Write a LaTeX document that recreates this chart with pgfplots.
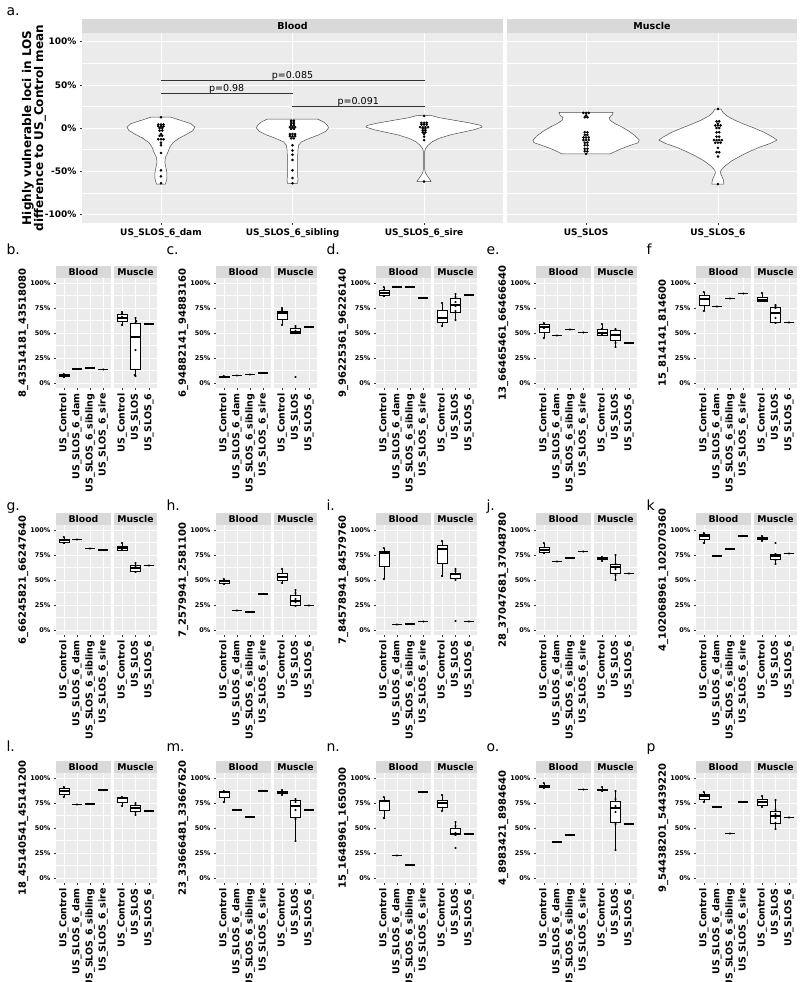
\documentclass[border=0pt]{standalone}
\usepackage{fontspec}
\setmainfont{DejaVu Sans}
\usepackage{pgfplots}
\pgfplotsset{compat=1.18}

\definecolor{panelbg}{HTML}{EBEBEB}
\definecolor{stripbg}{HTML}{D9D9D9}
\definecolor{grey20}{HTML}{333333}
\definecolor{grey30}{HTML}{4D4D4D}

\newcommand{\fs}[1]{\fontsize{#1}{#1}\selectfont}

\pgfplotsset{
  gg/.style={
    scale only axis, anchor=north west,
    axis background/.style={fill=panelbg},
    axis line style={draw=none},
    tick pos=left, tick align=outside,
    major tick length=2pt, minor tick length=0pt,
    tick style={draw=grey20, line width=0.4pt},
    grid=both, minor y tick num=1,
    major grid style={draw=white, line width=0.6pt},
    minor grid style={draw=white, line width=0.3pt},
    clip=false,
  },
  sb/.style={gg, width=55pt, height=110pt,
    xmin=0.4, xmax=4.6, ymin=-5, ymax=105,
    xtick={1,2,3,4},
    xticklabels={US\_Control,US\_SLOS\_6\_dam,US\_SLOS\_6\_sibling,US\_SLOS\_6\_sire},
    ytick={0,25,50,75,100},
    yticklabels={0\%,25\%,50\%,75\%,100\%},
    yticklabel style={font=\bfseries\fs{6.5}},
    xticklabel style={rotate=90, anchor=east, font=\bfseries\fs{9.5}},
    ylabel style={at={(axis description cs:-0.44,0.5)}, anchor=south, font=\bfseries\fs{10}},
  },
  sm/.style={gg, width=43pt, height=110pt,
    xmin=0.4, xmax=3.6, ymin=-5, ymax=105,
    xtick={1,2,3},
    xticklabels={US\_Control,US\_SLOS,US\_SLOS\_6},
    ytick={0,25,50,75,100}, yticklabels={},
    ytick style={draw=none},
    xticklabel style={rotate=90, anchor=east, font=\bfseries\fs{9.5}},
  },
  bline/.style={black, line width=0.5pt},
  dot/.style={only marks, mark=*, mark size=0.85pt, black},
  vio/.style={fill=white, draw=grey30, line width=0.5pt},
}

% box: position, lower whisker, lower quartile, median, upper quartile, upper whisker
\newcommand{\bx}[6]{%
  \pgfmathsetmacro{\xl}{#1-0.375}\pgfmathsetmacro{\xr}{#1+0.375}%
  \addplot[bline] coordinates {(#1,#2)(#1,#3)};
  \addplot[bline] coordinates {(#1,#5)(#1,#6)};
  \addplot[bline, fill=white] coordinates {(\xl,#3)(\xr,#3)(\xr,#5)(\xl,#5)(\xl,#3)};
  \addplot[black, line width=1.1pt] coordinates {(\xl,#4)(\xr,#4)};
}
% a group with one sample
\newcommand{\one}[2]{%
  \pgfmathsetmacro{\xl}{#1-0.375}\pgfmathsetmacro{\xr}{#1+0.375}%
  \addplot[black, line width=1.1pt] coordinates {(\xl,#2)(\xr,#2)};
  \addplot[dot] coordinates {(#1,#2)};
}
\newcommand{\pts}[1]{\addplot[dot] coordinates {#1};}

% x0, plot top, letter baseline, letter, ylabel, blood plots, muscle plots
\newcommand{\panel}[7]{%
  \node[anchor=base west, font=\fs{14}] at (#1pt+3pt,-#3pt) {#4};
  \begin{axis}[sb, at={(#1pt+56pt,-#2pt)}, ylabel={#5}]
  #6
  \end{axis}
  \begin{axis}[sm, at={(#1pt+114pt,-#2pt)}]
  #7
  \end{axis}
  \fill[stripbg] (#1pt+56pt,-#2pt) rectangle (#1pt+111pt,-#2pt+12pt);
  \node[font=\bfseries\fs{9.3}] at (#1pt+83.5pt,-#2pt+6pt) {Blood};
  \fill[stripbg] (#1pt+114pt,-#2pt) rectangle (#1pt+157pt,-#2pt+12pt);
  \node[font=\bfseries\fs{9.3}] at (#1pt+135.5pt,-#2pt+6pt) {Muscle};
}

\begin{document}
\begin{tikzpicture}
\useasboundingbox (0,0) rectangle (800pt,-982pt);

% ---------------- panel a ----------------
\node[anchor=base west, font=\fs{14}] at (3pt,-16pt) {a.};
\begin{axis}[gg, at={(82pt,-33pt)}, width=421pt, height=190pt,
  xmin=0.4, xmax=3.6, ymin=-110, ymax=110,
  xtick={1,2,3},
  xticklabels={US\_SLOS\_6\_dam,US\_SLOS\_6\_sibling,US\_SLOS\_6\_sire},
  ytick={-100,-50,0,50,100},
  yticklabels={-100\%,-50\%,0\%,50\%,100\%},
  tick label style={font=\bfseries\fs{9}},
  ylabel={Highly vulnerable loci in LOS\\difference to US\_Control mean},
  ylabel style={at={(axis description cs:-0.114,0.5)}, anchor=center,
    align=center, font=\bfseries\fs{12}},
]
\addplot[vio] coordinates {(1.076,12.5)(1.167,8)(1.228,5)(1.258,1)(1.243,-3)(1.198,-7)(1.137,-12)(1.091,-17)(1.068,-22)(1.053,-28)(1.034,-34)(1.030,-40)(1.038,-46)(1.046,-52)(1.046,-58)(1.038,-63)(1.034,-65)
 (0.966,-65)(0.962,-63)(0.954,-58)(0.954,-52)(0.962,-46)(0.970,-40)(0.966,-34)(0.947,-28)(0.932,-22)(0.909,-17)(0.863,-12)(0.802,-7)(0.757,-3)(0.742,1)(0.772,5)(0.833,8)(0.924,12.5)(1.076,12.5)};
\addplot[vio] coordinates {(2.190,10.4)(2.236,7)(2.266,3)(2.274,0)(2.251,-4)(2.198,-8)(2.129,-12)(2.068,-16)(2.046,-20)(2.042,-25)(2.038,-35)(2.038,-45)(2.038,-55)(2.042,-60)(2.038,-64)
 (1.962,-64)(1.958,-60)(1.962,-55)(1.962,-45)(1.962,-35)(1.958,-25)(1.954,-20)(1.932,-16)(1.871,-12)(1.802,-8)(1.749,-4)(1.726,0)(1.734,3)(1.764,7)(1.810,10.4)(2.190,10.4)};
\addplot[vio] coordinates {(3.061,14.2)(3.114,12)(3.228,9)(3.342,6)(3.433,3)(3.441,1)(3.380,-2)(3.289,-5)(3.198,-8)(3.114,-12)(3.061,-16)(3.030,-20)(3.011,-24)(3.005,-27)(3.005,-48)(3.011,-52)(3.027,-56)(3.046,-60)(3.053,-62)
 (2.947,-62)(2.954,-60)(2.973,-56)(2.989,-52)(2.995,-48)(2.995,-27)(2.989,-24)(2.970,-20)(2.939,-16)(2.886,-12)(2.802,-8)(2.711,-5)(2.620,-2)(2.559,1)(2.567,3)(2.658,6)(2.772,9)(2.886,12)(2.939,14.2)(3.061,14.2)};
\addplot[dot, mark size=1.1pt] coordinates {(1,12.4)(0.98,4)(1,4)(1.02,4)(0.98,2)(1,2)(1.02,2)(0.99,0)(1.01,0)(0.99,-3)(1.01,-3)(1,-7)(0.99,-9)(1.01,-9)(0.98,-13)(1,-13)(1.02,-13)(1,-17)(1,-20)(1,-29)(1,-49)(1,-56)(1,-64)};
\addplot[dot, mark size=1.1pt] coordinates {(1.99,8.5)(2.01,8.5)(1.99,7)(2.01,7)(1.99,5)(2.01,5)(1.99,3)(2.01,3)(1.98,1)(2,1)(2.02,1)(1.99,-1)(2.01,-1)(1.98,-7)(2,-7)(2.02,-7)(1.98,-9.5)(2,-9.5)(2.02,-9.5)(1.99,-12)(2.01,-12)(2,-20)(2,-26)(2,-31)(2,-37)(2,-49)(2,-58)(2,-64)};
\addplot[dot, mark size=1.1pt] coordinates {(3,14)(2.98,6)(3,6)(3.02,6)(2.98,4)(3,4)(3.02,4)(2.97,1)(2.99,1)(3.01,1)(3.03,1)(2.99,-1)(3.01,-1)(2.99,-3)(3.01,-3)(2.99,-5)(3.01,-5)(3,-7)(3,-10)(3,-14)(3,-62)};
% significance brackets
\draw[grey20, line width=0.6pt] (axis cs:1,54) -- (axis cs:1,55.5) -- (axis cs:3,55.5) -- (axis cs:3,54);
\draw[grey20, line width=0.6pt] (axis cs:1,39) -- (axis cs:1,40.5) -- (axis cs:2,40.5) -- (axis cs:2,39);
\draw[grey20, line width=0.6pt] (axis cs:2,24) -- (axis cs:2,25.4) -- (axis cs:3,25.4) -- (axis cs:3,24);
\node[anchor=base, font=\fs{9.5}] at ([yshift=2pt]axis cs:2,55.5) {p=0.085};
\node[anchor=base, font=\fs{9.5}] at ([yshift=2pt]axis cs:1.5,40.5) {p=0.98};
\node[anchor=base, font=\fs{9.5}] at ([yshift=2pt]axis cs:2.5,25.4) {p=0.091};
\end{axis}

\begin{axis}[gg, at={(507pt,-33pt)}, width=290pt, height=190pt,
  xmin=0.4, xmax=2.6, ymin=-110, ymax=110,
  xtick={1,2}, xticklabels={US\_SLOS,US\_SLOS\_6},
  ytick={-100,-50,0,50,100}, yticklabels={}, ytick style={draw=none},
  tick label style={font=\bfseries\fs{9}},
]
\addplot[vio] coordinates {(1.205,18)(1.198,15)(1.175,12)(1.182,9)(1.220,5)(1.274,1)(1.327,-4)(1.372,-9)(1.403,-14)(1.395,-17)(1.319,-21)(1.251,-25)(1.182,-30)
 (0.818,-30)(0.749,-25)(0.681,-21)(0.605,-17)(0.597,-14)(0.628,-9)(0.673,-4)(0.726,1)(0.780,5)(0.818,9)(0.825,12)(0.802,15)(0.795,18)(1.205,18)};
\addplot[vio] coordinates {(2.023,22)(2.038,18)(2.068,14)(2.129,9)(2.205,4)(2.274,0)(2.350,-5)(2.410,-10)(2.448,-14)(2.395,-18)(2.319,-22)(2.243,-27)(2.175,-32)(2.106,-38)(2.053,-44)(2.023,-49)(2.019,-52)(2.030,-56)(2.042,-60)(2.046,-65)
 (1.954,-65)(1.958,-60)(1.970,-56)(1.981,-52)(1.977,-49)(1.947,-44)(1.894,-38)(1.825,-32)(1.757,-27)(1.681,-22)(1.605,-18)(1.552,-14)(1.590,-10)(1.650,-5)(1.726,0)(1.795,4)(1.871,9)(1.932,14)(1.962,18)(1.977,22)(2.023,22)};
\addplot[dot, mark size=1.1pt] coordinates {(0.98,17.5)(1,17.5)(1.02,17.5)(1,14.5)(0.99,12.5)(1.01,12.5)(0.99,-5)(1.01,-5)(0.99,-8)(1.01,-8)(0.98,-11)(1,-11)(1.02,-11)(0.98,-14)(1,-14)(1.02,-14)(0.99,-17)(1.01,-17)(0.99,-20)(1.01,-20)(0.99,-24)(1.01,-24)(0.99,-27)(1.01,-27)(1,-30)};
\addplot[dot, mark size=1.1pt] coordinates {(2,22)(1.99,7.7)(2.01,7.7)(2,5)(1.98,3)(2,3)(2.02,3)(1.99,0)(2.01,0)(1.99,-5)(2.01,-5)(1.99,-10)(2.01,-10)(1.97,-14)(1.99,-14)(2.01,-14)(2.03,-14)(1.98,-17)(2,-17)(2.02,-17)(2,-23)(1.99,-28)(2.01,-28)(2,-33)(2,-65)};
\end{axis}
\fill[stripbg] (82pt,-33pt) rectangle (503pt,-19pt);
\node[font=\bfseries\fs{9.5}] at (292.5pt,-26pt) {Blood};
\fill[stripbg] (507pt,-33pt) rectangle (797pt,-19pt);
\node[font=\bfseries\fs{9.5}] at (652pt,-26pt) {Muscle};

% ---------------- row 1 ----------------
\panel{0}{278}{254}{b.}{8\_43514181\_43518080}
 {\bx{1}{5.5}{6.5}{7.5}{8.5}{9.5}\pts{(1,6)(1,8)(1,9)}\one{2}{14}\one{3}{15}\one{4}{13.5}}
 {\bx{1}{57}{62}{65}{69}{71}\pts{(1,58)(1,66)(1,69)(1,71)}
  \bx{2}{7}{14}{46}{60}{65}\pts{(2,7)(1.95,8)(2,33)(2,60)(2.05,62)(2,65)}\one{3}{59}}
\panel{160}{278}{254}{c.}{6\_94882141\_94883160}
 {\bx{1}{5.5}{6}{6.5}{7}{7.5}\pts{(1,6)(1,7)}\one{2}{7.5}\one{3}{8.5}\one{4}{10}}
 {\bx{1}{58}{64}{70}{72}{75}\pts{(1,58)(1,70)(1,73)(1,75)}
  \bx{2}{49}{50}{51}{55}{57}\pts{(2,6)(2,50)(2,52)(2,55)(2,57)}\one{3}{56}}
\panel{320}{278}{254}{d.}{9\_96225361\_96226140}
 {\bx{1}{86}{88}{90}{93}{96}\pts{(1,87)(1,90)(1,93)(1,96)}\one{2}{96}\one{3}{96}\one{4}{85}}
 {\bx{1}{56}{61}{65}{73}{80}\pts{(1,57)(1,65)(1,80)}
  \bx{2}{62}{71}{78}{85}{89}\pts{(2,63)(2,72)(2,77)(2,81)(2,86)(2,89)}\one{3}{88}}
\panel{480}{278}{254}{e.}{13\_66465461\_66466640}
 {\bx{1}{45}{51}{56}{59}{60}\pts{(1,45)(1,55)(1,60)}\one{2}{47.5}\one{3}{53.5}\one{4}{50.5}}
 {\bx{1}{47}{48}{50}{54}{59}\pts{(1,48)(1,50)(1,54)(1,59)}
  \bx{2}{36}{43}{48}{53}{54}\pts{(2,36)(2,40)(2,48)(2,53)(2,54)}\one{3}{40}}
\panel{640}{278}{254}{f}{15\_814141\_814600}
 {\bx{1}{72}{78}{84}{88}{91}\pts{(1,72)(1,84)(1,91)}\one{2}{76.5}\one{3}{84.5}\one{4}{89.5}}
 {\bx{1}{82}{82}{83}{86}{90}\pts{(1,82)(1,90)}
  \bx{2}{59}{61}{70}{76}{78}\pts{(2,60)(2,65)(2,75)(2,77)(2,78)}\one{3}{60.5}}

% ---------------- row 2 ----------------
\panel{0}{525}{510}{g.}{6\_66245821\_66247640}
 {\bx{1}{86}{88}{90}{91}{93}\pts{(1,87)(1,90)(1,93)}\one{2}{90.5}\one{3}{81.5}\one{4}{80}}
 {\bx{1}{79}{80}{82}{84}{87}\pts{(1,80)(1,83)(1,87)}
  \bx{2}{57}{59}{62}{65}{67}\pts{(2,58)(2,63)(2,67)}\one{3}{64.5}}
\panel{160}{525}{510}{h.}{7\_2579941\_2581100}
 {\bx{1}{45}{47}{49}{50}{51}\pts{(1,46)(1,49)(1,51)}\one{2}{19.5}\one{3}{18}\one{4}{36}}
 {\bx{1}{46}{50}{53}{57}{61}\pts{(1,47)(1,53)(1,61)}
  \bx{2}{24}{25}{29}{35}{40}\pts{(2,24)(2,28)(2,31)(2,37)(2,40)}\one{3}{24.5}}
\panel{320}{525}{510}{i.}{7\_84578941\_84579760}
 {\bx{1}{51}{64}{77}{79}{82}\pts{(1,51)(1,77)(1,82)}\one{2}{5.5}\one{3}{6}\one{4}{8.5}}
 {\bx{1}{53}{67}{81}{85}{89}\pts{(1,54)(1,81)(1,89)}
  \bx{2}{50}{52}{56}{57}{60}\pts{(2,9)(2,50)(2,56)(2,59)(2,61)}\one{3}{8.5}}
\panel{480}{525}{510}{j.}{28\_37047681\_37048780}
 {\bx{1}{76}{78}{80}{83}{87}\pts{(1,77)(1,80)(1,87)}\one{2}{68.5}\one{3}{72}\one{4}{78.5}}
 {\bx{1}{69}{71}{72}{73}{73.5}\pts{(1,69)(1,72)(1,73)}
  \bx{2}{50}{57}{63}{66}{75}\pts{(2,50)(2,55)(2,61)(2,66)(2,75)}\one{3}{56.5}}
\panel{640}{525}{510}{k}{4\_102068961\_102070360}
 {\bx{1}{86}{91}{94}{96}{97}\pts{(1,87)(1,94)(1,97)}\one{2}{74}\one{3}{81}\one{4}{94}}
 {\bx{1}{89}{91}{92}{93}{94}\pts{(1,89)(1,92)(1,94)}
  \bx{2}{66}{71}{74}{76}{76}\pts{(2,66)(2,70)(2,74)(2,76)(2,87)}\one{3}{76.5}}

% ---------------- row 3 ----------------
\panel{0}{773}{751}{l.}{18\_45140541\_45141200}
 {\bx{1}{81}{84}{87}{90}{91}\pts{(1,81)(1,87)(1,91)}\one{2}{73.5}\one{3}{74}\one{4}{88}}
 {\bx{1}{72}{76}{80}{81}{81.5}\pts{(1,72)(1,80)(1,81)}
  \bx{2}{63}{67}{70}{73}{75}\pts{(2,63)(2,66)(2,70)(2,73)(2,75)}\one{3}{67}}
\panel{160}{773}{751}{m.}{23\_33666481\_33667620}
 {\bx{1}{76}{81}{86}{87}{87.5}\pts{(1,76)(1,86)(1,87)}\one{2}{68}\one{3}{61}\one{4}{87}}
 {\bx{1}{83}{85}{86}{87}{88}\pts{(1,83)(1,86)(1,88)}
  \bx{2}{37}{61}{72}{78}{79}\pts{(2,37)(2,59)(2,68)(2,76)(2,79)}\one{3}{68}}
\panel{320}{773}{751}{n.}{15\_1648961\_1650300}
 {\bx{1}{59}{68}{77}{78}{81}\pts{(1,60)(1,77)(1,81)}\one{2}{22.5}\one{3}{13}\one{4}{86}}
 {\bx{1}{67}{71}{75}{78}{83}\pts{(1,67)(1,75)(1,83)}
  \bx{2}{43}{43.5}{44}{50}{56}\pts{(2,30)(2,43)(2,45)(2,52)(2,56)}\one{3}{44}}
\panel{480}{773}{751}{o.}{4\_8983421\_8984640}
 {\bx{1}{90}{91}{92}{93}{95}\pts{(1,90)(1,92)(1,95)}\one{2}{36}\one{3}{43}\one{4}{88.5}}
 {\bx{1}{86}{87.5}{88}{89}{91}\pts{(1,87)(1,88)(1,91)}
  \bx{2}{28}{56}{70}{77}{87}\pts{(2,28)(2,54)(2,66)(2,72)(2,79)(2,87)}\one{3}{54}}
\panel{640}{773}{751}{p}{9\_54438201\_54439220}
 {\bx{1}{76}{79}{82}{84}{86}\pts{(1,76)(1,82)(1,86)}\one{2}{71}\one{3}{44.5}\one{4}{76}}
 {\bx{1}{71}{73}{76}{79}{82}\pts{(1,71)(1,76)(1,82)}
  \bx{2}{49}{55}{62}{67}{78}\pts{(2,49)(2,55)(2,60)(2,64)(2,68)(2,78)}\one{3}{60.5}}
\end{tikzpicture}
\end{document}
